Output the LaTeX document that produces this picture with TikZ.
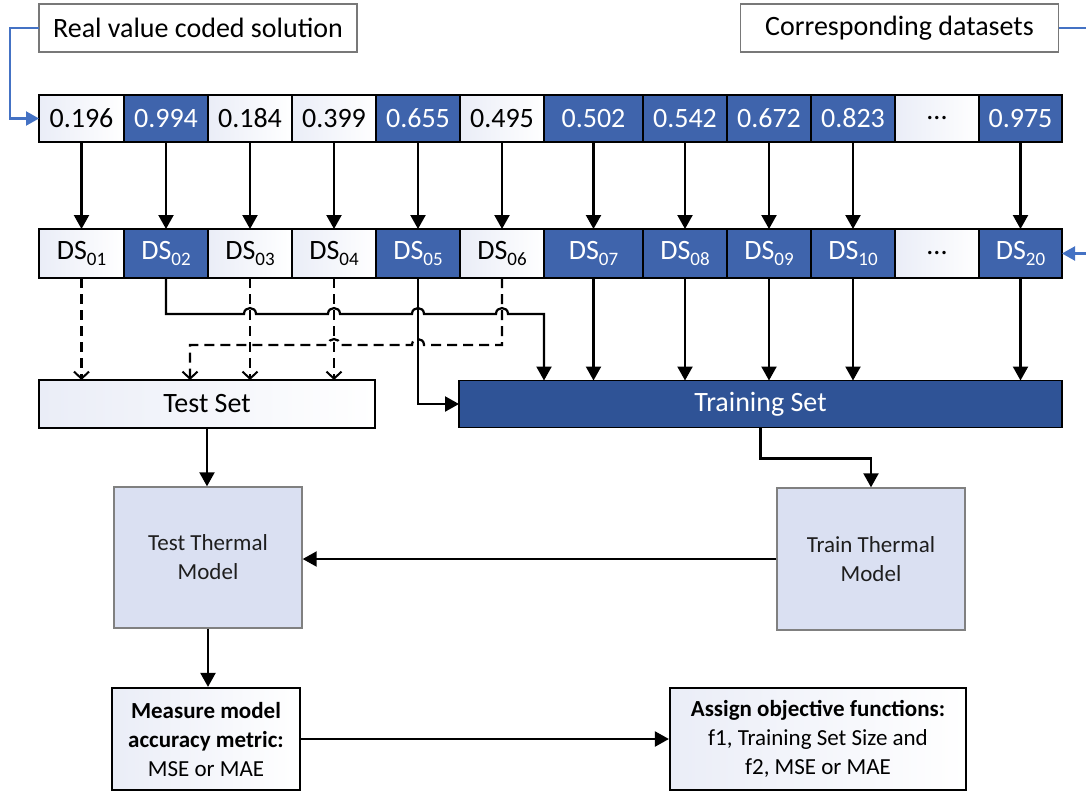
\documentclass[tikz,border=0pt]{standalone}
\usepackage{fontspec}
\setmainfont{Carlito}
\usetikzlibrary{arrows.meta,calc}
\definecolor{cellblue}{RGB}{63,100,172}
\definecolor{trainblue}{RGB}{47,83,150}
\definecolor{linkblue}{RGB}{68,114,196}
\definecolor{thermfill}{RGB}{218,224,242}
\definecolor{thermline}{RGB}{128,128,128}
\definecolor{lightcell}{RGB}{234,237,247}
\definecolor{labline}{RGB}{120,120,120}
\newcommand\dsn[1]{DS\raisebox{-0.2em}{\fontsize{19}{19}\selectfont #1}}
\newcommand\tridots{...}
\begin{document}
\begin{tikzpicture}[x=1pt,y=-1pt,
  base/.style={inner sep=0pt, outer sep=0pt, font=\fontsize{28}{30}\selectfont},
  wcell/.style={base, draw=black, line width=2.2pt, left color=lightcell, right color=white, text=black},
  bcell/.style={base, draw=black, line width=2.2pt, fill=cellblue, text=white},
  labbox/.style={base, draw=labline, line width=1.3pt, fill=white, minimum width=318pt, minimum height=48pt},
  thermbox/.style={inner sep=0pt, draw=thermline, line width=1.4pt, fill=thermfill, text={rgb,255:red,30;green,30;blue,30},
    minimum width=188pt, minimum height=141pt, align=center, font=\fontsize{23}{29}\selectfont},
  resbox/.style={inner sep=0pt, draw=black, line width=2.2pt, left color=lightcell, right color=white,
    minimum height=102pt, align=center, font=\fontsize{23}{29}\selectfont},
  solidarrow/.style={draw=black, line width=2.2pt, -{Triangle[length=14pt,width=15pt]}},
  dasharrow/.style={draw=black, line width=2.2pt, dash pattern=on 10pt off 6pt, -{Straight Barb[length=7pt,width=15pt,line width=2pt]}},
  blueconn/.style={draw=linkblue, line width=2.2pt, -{Triangle[length=13pt,width=14pt]}}
]
\useasboundingbox (0,0) rectangle (1086,793);

% top labels
\node[labbox] (lab1) at (198,28) {Real value coded solution};
\node[labbox] (lab2) at (899.5,28) {Corresponding datasets};

% value row and dataset row
\foreach \n/\cx/\w/\s/\t/\d in {
  1/81.5/85/wcell/0.196/\dsn{01},
  2/166/84/bcell/0.994/\dsn{02},
  3/250/84/wcell/0.184/\dsn{03},
  4/334/84/wcell/0.399/\dsn{04},
  5/418/84/bcell/0.655/\dsn{05},
  6/502/84/wcell/0.495/\dsn{06},
  7/593.5/99/bcell/0.502/\dsn{07},
  8/685/84/bcell/0.542/\dsn{08},
  9/769/84/bcell/0.672/\dsn{09},
  10/853/84/bcell/0.823/\dsn{10},
  11/937/84/wcell/\tridots/\tridots,
  12/1020.5/83/bcell/0.975/\dsn{20}}
{
  \node[\s, minimum width=\w pt, minimum height=47pt] (v\n) at (\cx,118.5) {\t};
  \node[\s, minimum width=\w pt, minimum height=49pt] (d\n) at (\cx,253.5) {\d};
}

% sets
\node[wcell, minimum width=336pt, minimum height=48pt] (test) at (207,404) {Test Set};
\node[base, draw=black, line width=1.8pt, fill=trainblue, text=white, minimum width=603pt, minimum height=47pt] (train) at (760.5,404) {Training Set};

% thermal models
\node[thermbox] (testth) at (208,557.5) {Test Thermal\\Model};
\node[thermbox, minimum height=142pt] (trainth) at (871,559) {Train Thermal\\Model};

% result boxes
\node[resbox, minimum width=188pt] (meas) at (206,739) {\textbf{Measure model}\\\textbf{accuracy metric:}\\MSE or MAE};
\node[resbox, minimum width=296pt] (assign) at (818,739) {\textbf{Assign objective functions:}\\f1, Training Set Size and\\f2, MSE or MAE};

% blue input connectors
\draw[blueconn] (lab1.west) -- ($(lab1.west)+(-29,0)$) |- (v1.west);
\draw[blueconn] (lab2.east) -- ++(40,0) |- (d12.east);

% value -> dataset
\foreach \n in {1,2,3,4,5,6,7,8,9,10,12}
  \draw[solidarrow] (v\n.south) -- (d\n.north);

% datasets to test set (dashed)
\foreach \n in {1,3,4}
  \draw[dasharrow] (d\n.south) -- (d\n.south |- test.north);

\coordinate (hy) at (0,314);
\coordinate (t2) at (544,314);
\draw[solidarrow] (d2.south) -- (d2.south |- hy)
  -- ($(d3.south |- hy)+(-6,0)$) to[out=90,in=90,looseness=1.7] ($(d3.south |- hy)+(6,0)$)
  -- ($(d4.south |- hy)+(-6,0)$) to[out=90,in=90,looseness=1.7] ($(d4.south |- hy)+(6,0)$)
  -- ($(d5.south |- hy)+(-6,0)$) to[out=90,in=90,looseness=1.7] ($(d5.south |- hy)+(6,0)$)
  -- ($(d6.south |- hy)+(-6,0)$) to[out=90,in=90,looseness=1.7] ($(d6.south |- hy)+(6,0)$)
  -- (t2) -- (t2 |- train.north);

\coordinate (dy) at (0,345);
\coordinate (t6) at (190,345);
\draw[dasharrow] (d6.south) -- (d6.south |- dy)
  -- ($(d5.south |- dy)+(6,0)$) to[out=90,in=90,looseness=1.7] ($(d5.south |- dy)+(-6,0)$)
  -- ($(d4.south |- dy)+(6,0)$) to[out=90,in=90,looseness=1.7] ($(d4.south |- dy)+(-6,0)$)
  -- (t6) -- (t6 |- test.north);

\draw[solidarrow] (d5.south) |- (train.west);

\foreach \n in {7,8,9,10,12}
  \draw[solidarrow] (d\n.south) -- (d\n.south |- train.north);

% flow below
\draw[solidarrow] (test.south) -- (test.south |- testth.north);
\draw[solidarrow] (train.south) -- ++(0,31) -| (trainth.north);
\draw[solidarrow] (trainth.west) -- (trainth.west -| testth.east);
\draw[solidarrow] (testth.south) -- (testth.south |- meas.north);
\draw[solidarrow] (meas.east) -- (meas.east -| assign.west);
\end{tikzpicture}
\end{document}
